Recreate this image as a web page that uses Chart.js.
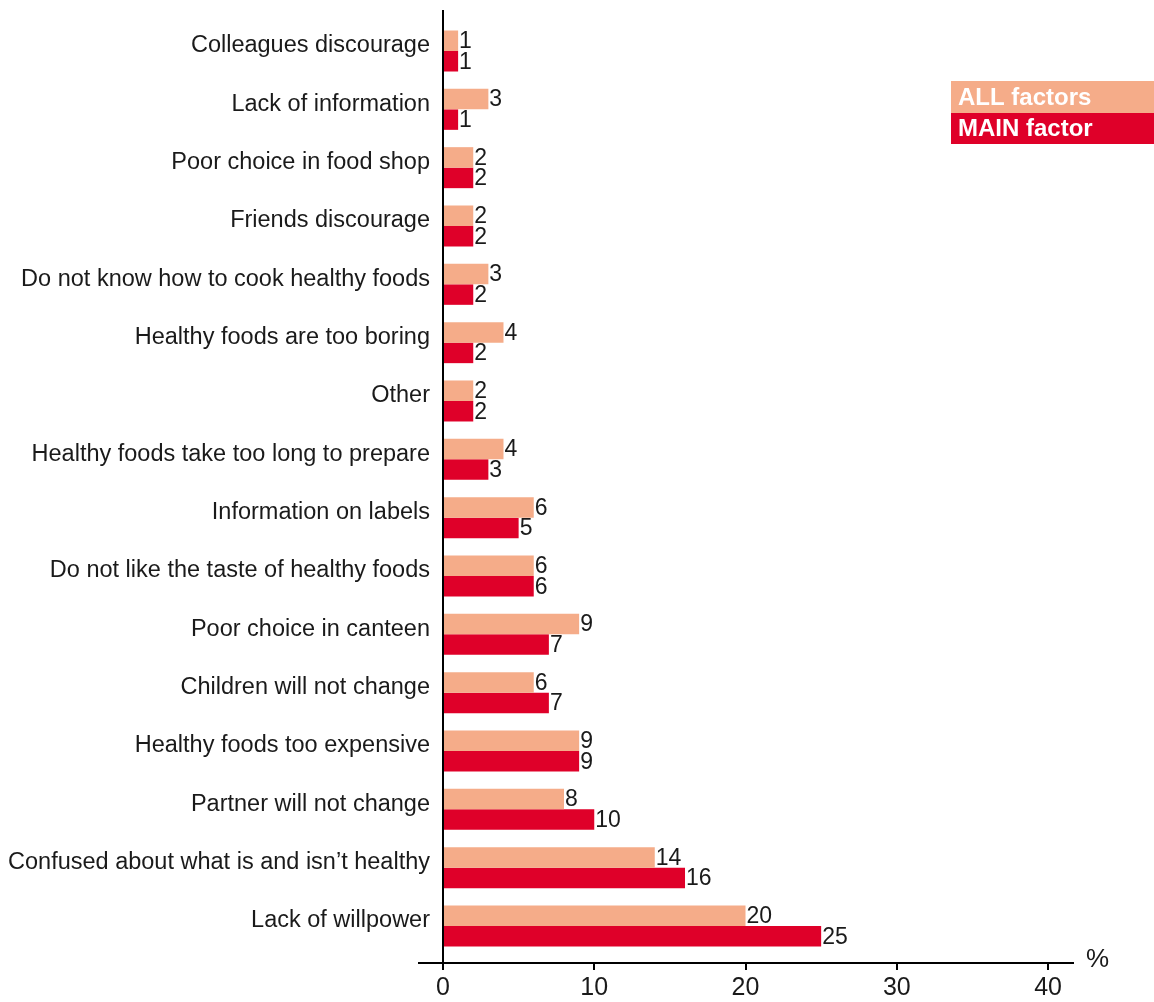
<!DOCTYPE html>
<html>
<head>
<meta charset="utf-8">
<script src="https://cdn.jsdelivr.net/npm/chart.js@4.4.1/dist/chart.umd.min.js"></script>
<style>
  html, body { margin: 0; padding: 0; background: #fff; }
  #wrap { position: relative; width: 1154px; height: 1002px; }
</style>
</head>
<body>
<div id="wrap"><canvas id="chart"></canvas></div>
<script>
// Barriers to healthy eating, % of respondents
const categories = [
    'Colleagues discourage',
    'Lack of information',
    'Poor choice in food shop',
    'Friends discourage',
    'Do not know how to cook healthy foods',
    'Healthy foods are too boring',
    'Other',
    'Healthy foods take too long to prepare',
    'Information on labels',
    'Do not like the taste of healthy foods',
    'Poor choice in canteen',
    'Children will not change',
    'Healthy foods too expensive',
    'Partner will not change',
    'Confused about what is and isn\u2019t healthy',
    'Lack of willpower'
];
const allFactors = [1, 3, 2, 2, 3, 4, 2, 4, 6, 6, 9, 6, 9, 8, 14, 20];
const mainFactor = [1, 1, 2, 2, 2, 2, 2, 3, 5, 6, 7, 7, 9, 10, 16, 25];
const xTicks = [0, 10, 20, 30, 40];
const seriesNames = ['ALL factors', 'MAIN factor'];

const FONT = "'Liberation Sans', Arial, sans-serif";
const SALMON = '#f5ac89';
const RED = '#df0029';
const INK = '#1a1a1a';

// numbers at the end of each bar
const valueLabels = {
    id: 'valueLabels',
    afterDatasetsDraw(chart) {
        const ctx = chart.ctx;
        ctx.save();
        ctx.font = '23px ' + FONT;
        ctx.fillStyle = INK;
        ctx.textAlign = 'left';
        ctx.textBaseline = 'middle';
        chart.data.datasets.forEach((ds, di) => {
            chart.getDatasetMeta(di).data.forEach((bar, i) => {
                ctx.fillText(ds.data[i].x, bar.x + 1, bar.y + 1);
            });
        });
        ctx.restore();
    }
};

// legend drawn as coloured strips with white text, the % unit,
// and the short piece of the x axis line left of the y axis labels' edge
const decorations = {
    id: 'decorations',
    afterDraw(chart) {
        const ctx = chart.ctx;
        const area = chart.chartArea;
        ctx.save();
        ctx.strokeStyle = '#000';
        ctx.lineWidth = 2;
        ctx.beginPath();
        ctx.moveTo(418, area.bottom);
        ctx.lineTo(area.left + 1, area.bottom);
        ctx.stroke();

        const rows = [[81, 32], [113, 31]];
        chart.data.datasets.forEach((ds, i) => {
            const [top, h] = rows[i];
            ctx.fillStyle = ds.backgroundColor;
            ctx.fillRect(951, top, 203, h);
            ctx.fillStyle = '#fff';
            ctx.font = 'bold 24px ' + FONT;
            ctx.textBaseline = 'middle';
            ctx.fillText(ds.label, 958, top + h / 2 + 1);
        });
        ctx.fillStyle = INK;
        ctx.font = '26px ' + FONT;
        ctx.textBaseline = 'middle';
        ctx.fillText('%', area.right + 13, area.bottom - 3);
        ctx.restore();
    }
};

const chart = new Chart(document.getElementById('chart'), {
    type: 'bar',
    data: {
        datasets: [
            {
                label: seriesNames[0],
                data: allFactors.map((v, i) => ({ x: v, y: i })),
                backgroundColor: SALMON
            },
            {
                label: seriesNames[1],
                data: mainFactor.map((v, i) => ({ x: v, y: i })),
                backgroundColor: RED
            }
        ]
    },
    options: {
        indexAxis: 'y',
        responsive: true,
        maintainAspectRatio: false,
        animation: false,
        datasets: { bar: { categoryPercentage: 0.703, barPercentage: 1 } },
        layout: { padding: { top: 10, right: 81, bottom: 0, left: 0 } },
        plugins: { legend: { display: false }, tooltip: { enabled: false } },
        scales: {
            x: {
                type: 'linear',
                min: -0.793,
                max: 41.65,
                afterBuildTicks: scale => { scale.ticks = xTicks.map(v => ({ value: v })); },
                afterFit: scale => { scale.height = 39; scale.paddingLeft = 0; scale.paddingRight = 0; },
                border: { display: true, color: '#000', width: 2 },
                grid: {
                    color: c => (c.tick && c.tick.value === 0 ? '#000' : 'rgba(0,0,0,0)'),
                    lineWidth: 2,
                    tickColor: '#000',
                    tickWidth: 2,
                    tickLength: 7
                },
                ticks: {
                    color: INK,
                    font: { family: FONT, size: 25 },
                    padding: 3,
                    maxRotation: 0
                }
            },
            y: {
                type: 'linear',
                reverse: true,
                offset: false,
                min: -0.703,
                max: 15.635,
                afterBuildTicks: scale => { scale.ticks = categories.map((_, i) => ({ value: i })); },
                afterFit: scale => { scale.width = 431; scale.paddingTop = 0; scale.paddingBottom = 0; },
                border: { display: false },
                grid: { display: false, drawTicks: false, offset: false },
                ticks: {
                    color: INK,
                    font: { family: FONT, size: 23.5 },
                    padding: 1,
                    labelOffset: -5,
                    callback: v => categories[v]
                }
            }
        }
    },
    plugins: [valueLabels, decorations]
});
</script>
</body>
</html>
